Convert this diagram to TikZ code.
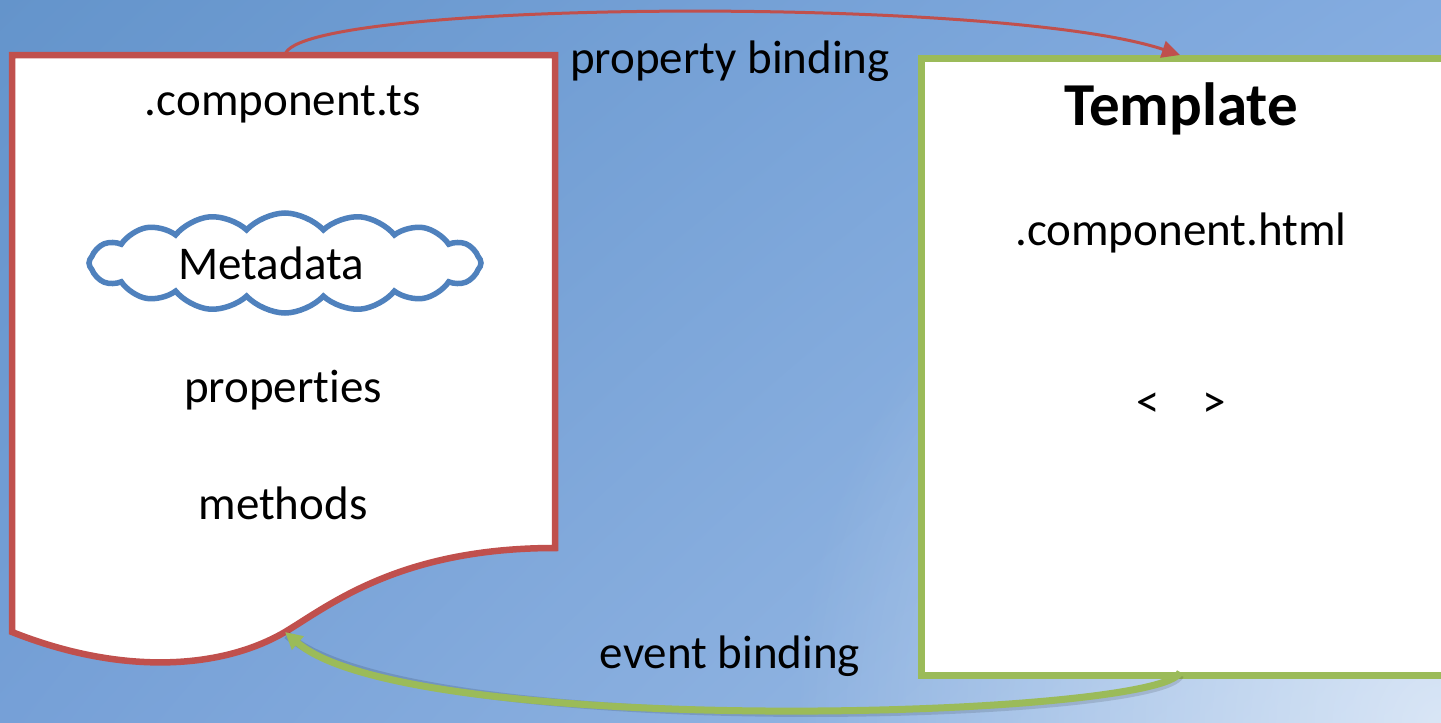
\documentclass[tikz,border=0pt]{standalone}
\usepackage{fontspec}
\setmainfont[Ligatures={NoCommon}]{Carlito}
\usetikzlibrary{arrows.meta,shapes.symbols,fadings,shadings}
\tikzfading[name=glowfade, inner color=transparent!0, outer color=transparent!100]
\definecolor{docred}{RGB}{192,80,77}
\definecolor{tgreen}{RGB}{155,187,89}
\definecolor{cblue}{RGB}{79,129,189}
\definecolor{bgul}{RGB}{100,148,203}
\definecolor{bgur}{RGB}{132,172,224}
\definecolor{bgll}{RGB}{118,160,215}
\definecolor{bglr}{RGB}{160,192,232}
\begin{document}
\begin{tikzpicture}[x=1pt,y=-1pt,
  lbl/.style={anchor=base,inner sep=0pt,font=\fontsize{47}{56}\selectfont},
  ttl/.style={anchor=base,inner sep=0pt,font=\fontsize{61}{72}\selectfont\bfseries},
  docbox/.style={draw=docred,line width=6.5pt,fill=white,line join=miter},
  tmplbox/.style={draw=tgreen,line width=6.5pt,fill=white,rectangle,inner sep=0pt},
  cloudbox/.style={cloud,cloud puffs=16,cloud puff arc=95,aspect=3.9,draw=cblue,line width=5.5pt,fill=white,inner sep=0pt},
  redarrow/.style={draw=docred,line width=3pt,-{Triangle[length=18pt,width=17pt]}},
  greenarrow/.style={draw=tgreen,line width=7pt,-{Triangle[length=17pt,width=17pt]}}
]
\useasboundingbox (0,0) rectangle (1441,723);
% background
\shade[upper left=bgul,upper right=bgur,lower left=bgll,lower right=bglr]
  (0,0) rectangle (1441,723);
\fill[white,opacity=0.6,path fading=glowfade] (1441,723) circle (650pt);
% document shape
\path[docbox] (12,55) -- (555,55) -- (555,548)
  .. controls (400,548) and (330,605) .. (285,632)
  .. controls (220,670) and (120,675) .. (12,632) -- cycle;
\coordinate (doctop) at (285,55);
\coordinate (docwave) at (285,632);
% template
\node[tmplbox,minimum width=530pt,minimum height=617pt,anchor=north west] (tmpl) at (918,55) {};
\coordinate (tmpltop) at (1180,55);
\coordinate (tmplbot) at (1180,672);
% cloud
\node[cloudbox,minimum width=392pt,minimum height=100pt] (cloud) at (285,263) {};
% texts
\node[lbl] (ts) at (283,115) {.component.ts};
\node[lbl] (meta) at (271,279) {Metadata};
\node[lbl] (props) at (283,402) {properties};
\node[lbl] (meth) at (283,519) {methods};
\node[ttl] (title) at (1181,125) {Template};
\node[lbl] (html) at (1181,245) {.component.html};
\node[lbl] (tags) at (1181,417) {<\hspace{0.9em}>};
\node[lbl] (pb) at (730,73) {property binding};
\node[lbl] (eb) at (730,668) {event binding};
% arrows
\draw[redarrow] (doctop) .. controls (295,0) and (1000,-5) .. (tmpltop);
\draw[black,opacity=0.12,line width=8pt] ([yshift=-3pt]tmplbot) .. controls (1165,721) and (410,743) .. ([shift={(2pt,-3pt)}]docwave);
\draw[greenarrow] (tmplbot) .. controls (1165,718) and (410,740) .. (docwave);
\end{tikzpicture}
\end{document}
